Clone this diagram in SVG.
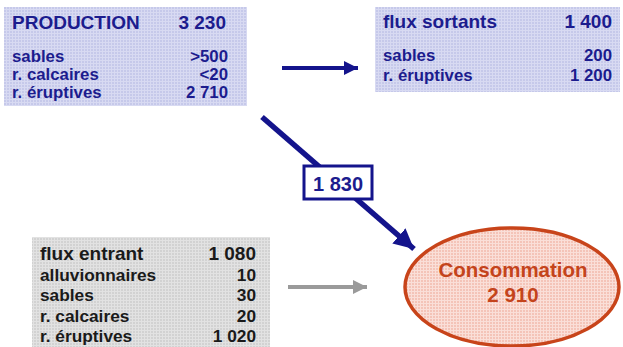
<svg xmlns="http://www.w3.org/2000/svg" width="623" height="347" viewBox="0 0 623 347">
<style>
.t{font-family:"Liberation Sans",Arial,sans-serif;font-weight:bold}
.blue{fill:#1c1c8e}
.blk{fill:#1a1a1a}
.r{text-anchor:end}
.h{font-size:19px}
.b{font-size:16.8px}
.g{font-size:17.3px}
</style>
<defs>
<pattern id="pb" width="3" height="3" patternUnits="userSpaceOnUse">
<rect width="3" height="3" fill="#c6c9ea"/>
<path d="M0 0.5H3M0.5 0V3" stroke="#d8daf2" stroke-width="1"/>
</pattern>
<pattern id="pg" width="3" height="3" patternUnits="userSpaceOnUse">
<rect width="3" height="3" fill="#d2d2d2"/>
<path d="M0 0.5H3M0.5 0V3" stroke="#e2e2e2" stroke-width="1"/>
</pattern>
<pattern id="pr" width="3" height="3" patternUnits="userSpaceOnUse">
<rect width="3" height="3" fill="#f4c4b8"/>
<path d="M0 0.5H3M0.5 0V3" stroke="#fadfd8" stroke-width="1"/>
</pattern>
<marker id="ab" markerUnits="userSpaceOnUse" markerWidth="16" markerHeight="14" refX="14" refY="7" orient="auto">
<path d="M0 0L14 7L0 14Z" fill="#14148c"/>
</marker>
<marker id="ag" markerUnits="userSpaceOnUse" markerWidth="16" markerHeight="14" refX="14" refY="7" orient="auto">
<path d="M0 0L14 7L0 14Z" fill="#9a9a9a"/>
</marker>
<marker id="ad" markerUnits="userSpaceOnUse" markerWidth="22" markerHeight="20" refX="20" refY="10" orient="auto">
<path d="M0 0L20 10L0 20Z" fill="#14148c"/>
</marker>
</defs>

<g id="production">
<rect x="4" y="7" width="243" height="99" fill="url(#pb)"/>
<text class="t blue h" x="12" y="29">PRODUCTION</text>
<text class="t blue h r" x="226" y="29">3 230</text>
<text class="t blue b" x="12" y="62">sables</text>
<text class="t blue b r" x="228" y="62">&gt;500</text>
<text class="t blue b" x="12" y="80">r. calcaires</text>
<text class="t blue b r" x="228" y="80">&lt;20</text>
<text class="t blue b" x="12" y="98">r. éruptives</text>
<text class="t blue b r" x="228" y="98">2 710</text>
</g>

<g id="flux-sortants">
<rect x="375" y="7" width="245" height="85" fill="url(#pb)"/>
<text class="t blue h" x="383" y="28">flux sortants</text>
<text class="t blue h r" x="612" y="28">1 400</text>
<text class="t blue b" x="383" y="61">sables</text>
<text class="t blue b r" x="612" y="61">200</text>
<text class="t blue b" x="383" y="81">r. éruptives</text>
<text class="t blue b r" x="612" y="81">1 200</text>
</g>

<g id="flux-entrant">
<rect x="32" y="237" width="238" height="112" fill="url(#pg)"/>
<text class="t blk h" x="40" y="260">flux entrant</text>
<text class="t blk h r" x="256" y="260">1 080</text>
<text class="t blk g" x="40" y="281">alluvionnaires</text>
<text class="t blk g r" x="256" y="281">10</text>
<text class="t blk g" x="40" y="301">sables</text>
<text class="t blk g r" x="256" y="301">30</text>
<text class="t blk g" x="40" y="322">r. calcaires</text>
<text class="t blk g r" x="256" y="322">20</text>
<text class="t blk g" x="40" y="342">r. éruptives</text>
<text class="t blk g r" x="256" y="342">1 020</text>
</g>

<g id="consommation">
<ellipse cx="512" cy="287" rx="107" ry="59" fill="url(#pr)" stroke="#c8441a" stroke-width="3.5"/>
<text class="t" x="513" y="277" text-anchor="middle" font-size="20.5" fill="#c4441c">Consommation</text>
<text class="t" x="513" y="302" text-anchor="middle" font-size="20.5" fill="#c4441c">2 910</text>
</g>

<g id="connectors">
<line x1="282" y1="68" x2="358" y2="68" stroke="#14148c" stroke-width="4" marker-end="url(#ab)"/>
<line x1="288" y1="287" x2="367" y2="287" stroke="#9a9a9a" stroke-width="4" marker-end="url(#ag)"/>
<line x1="262" y1="117" x2="414" y2="249" stroke="#14148c" stroke-width="5.5" marker-end="url(#ad)"/>
<g id="label-1830">
<rect x="304" y="166" width="68" height="33" fill="#ffffff" stroke="#14148c" stroke-width="3"/>
<text class="t blue" x="338" y="191" text-anchor="middle" font-size="20">1 830</text>
</g>
</g>
</svg>
